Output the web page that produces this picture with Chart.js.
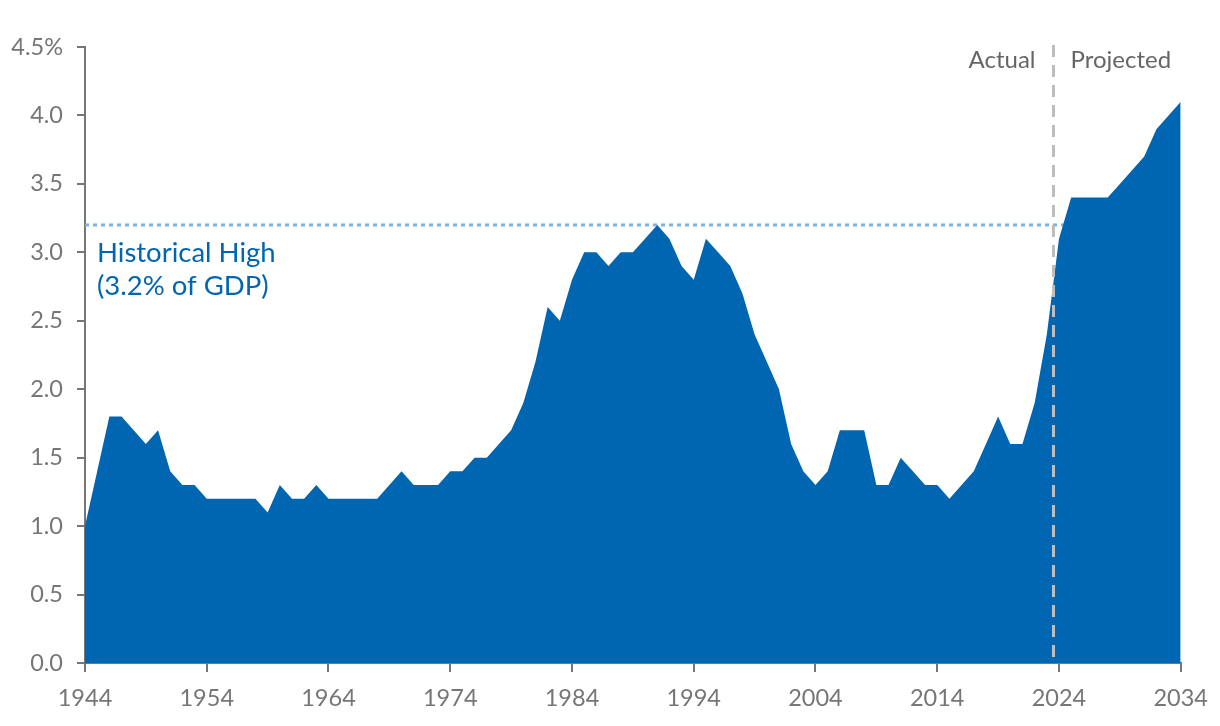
<!DOCTYPE html>
<html>
<head>
<meta charset="utf-8">
<script src="https://cdn.jsdelivr.net/npm/chart.js@4.4.1/dist/chart.umd.min.js"></script>
<style>
  html, body { margin: 0; padding: 0; background: #fff; }
  #wrap { width: 1220px; height: 726px; position: relative; }
</style>
</head>
<body>
<div id="wrap"><canvas id="chart"></canvas></div>
<script>
// --- data ---
const years = [];
for (let y = 1944; y <= 2034; y++) years.push(y);

// share of GDP, one value per year 1944..2034
const values = [
  1.0, 1.4, 1.8, 1.8, 1.7, 1.6, 1.7, 1.4, 1.3, 1.3,   // 1944-1953
  1.2, 1.2, 1.2, 1.2, 1.2, 1.1, 1.3, 1.2, 1.2, 1.3,   // 1954-1963
  1.2, 1.2, 1.2, 1.2, 1.2, 1.3, 1.4, 1.3, 1.3, 1.3,   // 1964-1973
  1.4, 1.4, 1.5, 1.5, 1.6, 1.7, 1.9, 2.2, 2.6, 2.5,   // 1974-1983
  2.8, 3.0, 3.0, 2.9, 3.0, 3.0, 3.1, 3.2, 3.1, 2.9,   // 1984-1993
  2.8, 3.1, 3.0, 2.9, 2.7, 2.4, 2.2, 2.0, 1.6, 1.4,   // 1994-2003
  1.3, 1.4, 1.7, 1.7, 1.7, 1.3, 1.3, 1.5, 1.4, 1.3,   // 2004-2013
  1.3, 1.2, 1.3, 1.4, 1.6, 1.8, 1.6, 1.6, 1.9, 2.4,   // 2014-2023
  3.1, 3.4, 3.4, 3.4, 3.4, 3.5, 3.6, 3.7, 3.9, 4.0,   // 2024-2033
  4.1                                                 // 2034
];

const historicalHigh = 3.2;
const splitYear = 2023.5;   // actual / projected boundary
const yTicks = [0, 0.5, 1, 1.5, 2, 2.5, 3, 3.5, 4, 4.5];
const xTicks = [1944, 1954, 1964, 1974, 1984, 1994, 2004, 2014, 2024, 2034];

const FONT = 'Lato, "Noto Sans", sans-serif';
const AXIS = '#767676';
const BLUE = '#0066b1';

// dashed split line + annotation text
const annotations = {
  id: 'annotations',
  afterDatasetsDraw(chart) {
    const { ctx, scales: { x, y } } = chart;
    const sx = Math.round(x.getPixelForValue(splitYear)) + 0.5;
    ctx.save();
    ctx.strokeStyle = '#bdbdbd';
    ctx.lineWidth = 3;
    ctx.setLineDash([12, 8]);
    ctx.beginPath();
    ctx.moveTo(sx, y.getPixelForValue(4.5) - 2);
    ctx.lineTo(sx, y.getPixelForValue(0));
    ctx.stroke();
    ctx.setLineDash([]);

    ctx.font = '24px ' + FONT;
    ctx.fillStyle = '#666';
    ctx.textBaseline = 'alphabetic';
    ctx.textAlign = 'right';
    ctx.fillText('Actual', sx - 18, 68);
    ctx.textAlign = 'left';
    ctx.fillText('Projected', sx + 17, 68);

    ctx.font = '27.5px ' + FONT;
    ctx.fillStyle = BLUE;
    ctx.fillText('Historical High', 97, 262);
    ctx.fillText('(3.2% of GDP)', 97, 295);
    ctx.restore();
  }
};

new Chart(document.getElementById('chart'), {
  type: 'line',
  data: {
    datasets: [
      {
        label: 'Interest',
        data: years.map((yr, i) => ({ x: yr, y: values[i] })),
        fill: 'origin',
        backgroundColor: BLUE,
        borderWidth: 0,
        pointRadius: 0,
        tension: 0,
        order: 1
      },
      {
        label: 'Historical High',
        data: [{ x: 1944, y: historicalHigh }, { x: 2034, y: historicalHigh }],
        borderColor: '#7fb2dd',
        borderWidth: 3,
        borderDash: [4, 4],
        pointRadius: 0,
        fill: false,
        order: 2
      }
    ]
  },
  options: {
    responsive: true,
    maintainAspectRatio: false,
    animation: false,
    layout: { padding: { top: 47, right: 38, left: 0, bottom: 0 } },
    plugins: { legend: { display: false }, tooltip: { enabled: false } },
    scales: {
      x: {
        type: 'linear',
        min: 1944,
        max: 2034,
        afterBuildTicks: s => { s.ticks = xTicks.map(v => ({ value: v })); },
        afterFit: s => { s.height = 63; },
        ticks: {
          color: AXIS,
          font: { family: FONT, size: 23.5 },
          padding: 12,
          maxRotation: 0,
          callback: v => String(v)
        },
        grid: { drawOnChartArea: false, drawTicks: true, tickLength: 9, color: AXIS, lineWidth: 2 },
        border: { display: true, color: AXIS, width: 2 }
      },
      y: {
        min: 0,
        max: 4.5,
        afterBuildTicks: s => { s.ticks = yTicks.map(v => ({ value: v })); },
        afterFit: s => { s.width = 85; },
        ticks: {
          color: AXIS,
          font: { family: FONT, size: 23.5 },
          padding: 14,
          callback: v => v === 4.5 ? '4.5%' : v.toFixed(1)
        },
        grid: { drawOnChartArea: false, drawTicks: true, tickLength: 8, color: AXIS, lineWidth: 2 },
        border: { display: true, color: AXIS, width: 2 }
      }
    }
  },
  plugins: [annotations]
});
</script>
</body>
</html>
